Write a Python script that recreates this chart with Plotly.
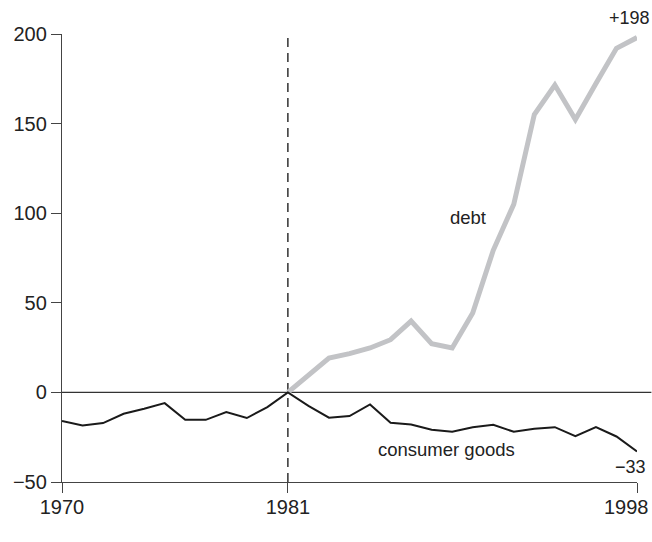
import plotly.graph_objects as go

years = list(range(1970, 1999))
consumer_goods = [-16, -18.4, -17.1, -11.9, -9.1, -6.0, -15.3, -15.3, -11.0, -14.3, -8.2, 0,
                  -7.5, -14.1, -13.2, -6.7, -16.9, -17.9, -20.8, -22.0, -19.4, -18.1, -22.0,
                  -20.3, -19.4, -24.4, -19.4, -24.6, -33]
debt_years = list(range(1981, 1999))
debt = [0, 9.7, 19.2, 21.6, 24.8, 29.4, 39.8, 27.2, 24.8, 44.3, 79.3, 105.0, 155.1, 171.5,
        152.3, 172.4, 192.0, 198]

y_ticks = [-50, 0, 50, 100, 150, 200]
y_tick_text = ["\u221250", "0", "50", "100", "150", "200"]
x_ticks = [1970, 1981, 1998]
x_tick_text = ["1970", "1981", ""]
last_year_label = "1998"

FONT = "Liberation Sans, Arial, sans-serif"
TXT = "#222222"
AX = "#444444"

fig = go.Figure()
fig.add_trace(go.Scatter(x=debt_years, y=debt, mode="lines",
                         line=dict(color="#c2c3c6", width=5), hoverinfo="skip",
                         cliponaxis=False))
fig.add_trace(go.Scatter(x=years, y=consumer_goods, mode="lines",
                         line=dict(color="#1a1a1a", width=2), hoverinfo="skip",
                         cliponaxis=False))

# zero line extending beyond plot area
fig.add_shape(type="line", xref="paper", yref="y", x0=0, x1=1.025, y0=0, y1=0,
              line=dict(color="#333333", width=1.3), layer="below")
# dashed vertical at 1981
fig.add_shape(type="line", xref="x", yref="y", x0=1981, x1=1981, y0=-50, y1=200,
              line=dict(color="#111111", width=1.3, dash="9px,6px"), layer="below")

fig.add_annotation(x=1989.75, y=97.8, text="debt", showarrow=False,
                   xanchor="center", yanchor="middle",
                   font=dict(family=FONT, size=18.5, color=TXT))
fig.add_annotation(x=1988.7, y=-31.8, text="consumer goods", showarrow=False,
                   xanchor="center", yanchor="middle",
                   font=dict(family=FONT, size=18.5, color=TXT))
fig.add_annotation(x=debt_years[-1], y=debt[-1], text="+%d" % debt[-1], showarrow=False,
                   xanchor="center", yanchor="middle", xshift=-8, yshift=20,
                   font=dict(family=FONT, size=18, color=TXT))
fig.add_annotation(x=years[-1], y=consumer_goods[-1], text="\u2212%d" % -consumer_goods[-1],
                   showarrow=False, xanchor="center", yanchor="middle", xshift=-7, yshift=-15,
                   font=dict(family=FONT, size=18, color=TXT))
fig.add_annotation(x=x_ticks[-1], y=0, xref="x", yref="paper", text=last_year_label,
                   showarrow=False, xanchor="center", yanchor="top", xshift=-11, yshift=-12,
                   font=dict(family=FONT, size=20, color=TXT))

fig.update_layout(
    width=652, height=542,
    margin=dict(l=62, r=15, t=34, b=60),
    paper_bgcolor="white", plot_bgcolor="white",
    showlegend=False,
    font=dict(family=FONT, size=20, color=TXT),
)
fig.update_xaxes(range=[1970, 1998], tickvals=x_ticks, ticktext=x_tick_text,
                 showgrid=False, zeroline=False, showline=True, linecolor=AX,
                 linewidth=1.3, ticks="outside", ticklen=10, tickwidth=1.3,
                 tickcolor=AX, ticklabelstandoff=-3)
fig.update_yaxes(range=[-50, 200], tickvals=y_ticks, ticktext=y_tick_text,
                 showgrid=False, zeroline=False, showline=True, linecolor=AX,
                 linewidth=1.3, ticks="outside", ticklen=10, tickwidth=1.3,
                 tickcolor=AX)

fig.write_html("out.html", config={"displayModeBar": False},
               post_script="document.body.style.margin='0';document.body.style.overflow='hidden';")
